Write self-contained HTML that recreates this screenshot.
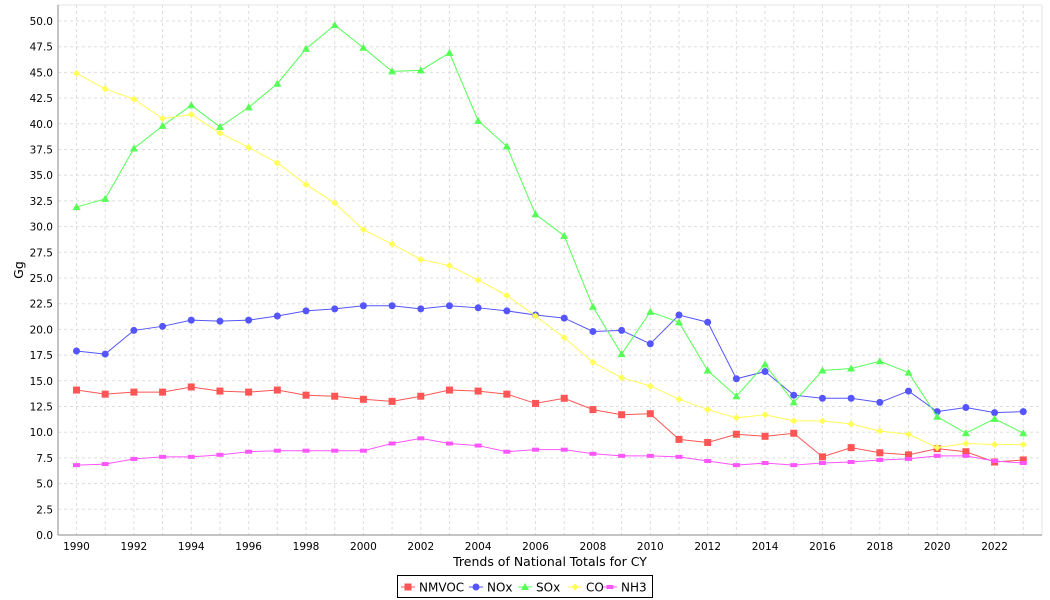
<!DOCTYPE html>
<html><head><meta charset="utf-8"><style>body{margin:0;background:#fff}svg{display:block;font-family:"DejaVu Sans","Liberation Sans",sans-serif}</style></head>
<body><svg id="c" width="1050" height="600" xmlns="http://www.w3.org/2000/svg"></svg>
<script>
const s=document.getElementById('c');let h='';
const L=58,R=1042,T=5,B=535;
const X=y=>76.5+(y-1990)*28.69, Y=v=>B-v*10.28;
h+=`<rect x="${L}" y="${T}" width="${R-L}" height="${B-T}" fill="#fff" stroke="#ccc" stroke-width="0.5"/>`;
for(let i=0;i<=20;i++){const v=i*2.5,y=Y(v);h+=`<line x1="${L}" x2="${R}" y1="${y}" y2="${y}" stroke="#ddd" stroke-dasharray="3,3"/><text x="${L-5}" y="${y+4}" font-size="10.5" text-anchor="end">${v.toFixed(1)}</text>`;}
for(let yr=1990;yr<=2023;yr++){const x=X(yr);h+=`<line x1="${x}" x2="${x}" y1="${T}" y2="${B}" stroke="#ddd" stroke-dasharray="3,3"/>`;if(yr%2==0)h+=`<text x="${x}" y="550" font-size="10.5" text-anchor="middle">${yr}</text>`;}
h+=`<line x1="${L}" x2="${R}" y1="${B}" y2="${B}" stroke="#888"/><line x1="${L}" x2="${L}" y1="${T}" y2="${B}" stroke="#888"/>`;
h+=`<text x="550" y="566" font-size="12.5" text-anchor="middle">Trends of National Totals for CY</text><text transform="translate(23,270) rotate(-90)" font-size="12.5" text-anchor="middle">Gg</text>`;
const D=[
["NMVOC","#ff5555","sq",[14.1,13.7,13.9,13.9,14.4,14.0,13.9,14.1,13.6,13.5,13.2,13.0,13.5,14.1,14.0,13.7,12.8,13.3,12.2,11.7,11.8,9.3,9.0,9.8,9.6,9.9,7.6,8.5,8.0,7.8,8.4,8.1,7.1,7.3]],
["NOx","#5555ff","ci",[17.9,17.6,19.9,20.3,20.9,20.8,20.9,21.3,21.8,22.0,22.3,22.3,22.0,22.3,22.1,21.8,21.4,21.1,19.8,19.9,18.6,21.4,20.7,15.2,15.9,13.6,13.3,13.3,12.9,14.0,12.0,12.4,11.9,12.0]],
["SOx","#55ff55","tr",[31.9,32.7,37.6,39.8,41.8,39.7,41.6,43.9,47.3,49.6,47.4,45.1,45.2,46.9,40.3,37.8,31.2,29.1,22.2,17.6,21.7,20.7,16.0,13.5,16.6,12.9,16.0,16.2,16.9,15.8,11.5,9.9,11.3,9.9]],
["CO","#ffff55","di",[44.9,43.4,42.4,40.5,40.9,39.1,37.7,36.2,34.1,32.3,29.7,28.3,26.8,26.2,24.8,23.3,21.3,19.2,16.8,15.3,14.5,13.2,12.2,11.4,11.7,11.1,11.1,10.8,10.1,9.8,8.5,8.9,8.8,8.8]],
["NH3","#ff55ff","re",[6.8,6.9,7.4,7.6,7.6,7.8,8.1,8.2,8.2,8.2,8.2,8.9,9.4,8.9,8.7,8.1,8.3,8.3,7.9,7.7,7.7,7.6,7.2,6.8,7.0,6.8,7.0,7.1,7.3,7.4,7.7,7.7,7.2,7.0]]];
function mk(t,x,y,c){if(t=="sq")return `<rect x="${x-3.5}" y="${y-3.5}" width="7" height="7" fill="${c}"/>`;if(t=="ci")return `<circle cx="${x}" cy="${y}" r="3.5" fill="${c}"/>`;if(t=="tr")return `<polygon points="${x},${y-4} ${x+4},${y+3} ${x-4},${y+3}" fill="${c}"/>`;if(t=="di")return `<polygon points="${x},${y-3.5} ${x+3.5},${y} ${x},${y+3.5} ${x-3.5},${y}" fill="${c}"/>`;return `<rect x="${x-3.5}" y="${y-2}" width="7" height="4" fill="${c}"/>`;}
for(const[n,c,t,v]of D){h+=`<polyline fill="none" stroke="${c}" points="${v.map((a,i)=>X(1990+i)+','+Y(a)).join(' ')}"/>`;v.forEach((a,i)=>h+=mk(t,X(1990+i),Y(a),c));}
h+=`<rect x="397.5" y="575.5" width="255" height="22" fill="#fff" stroke="#000"/>`;
const px=[401,469,518,568,603];
D.forEach(([n,c,t],i)=>{const lx=px[i];h+=`<line x1="${lx}" x2="${lx+14}" y1="587" y2="587" stroke="${c}"/>`+mk(t,lx+7,587,c)+`<text x="${lx+18}" y="591.5" font-size="12">${n}</text>`;});
s.innerHTML=h;
</script></body></html>
